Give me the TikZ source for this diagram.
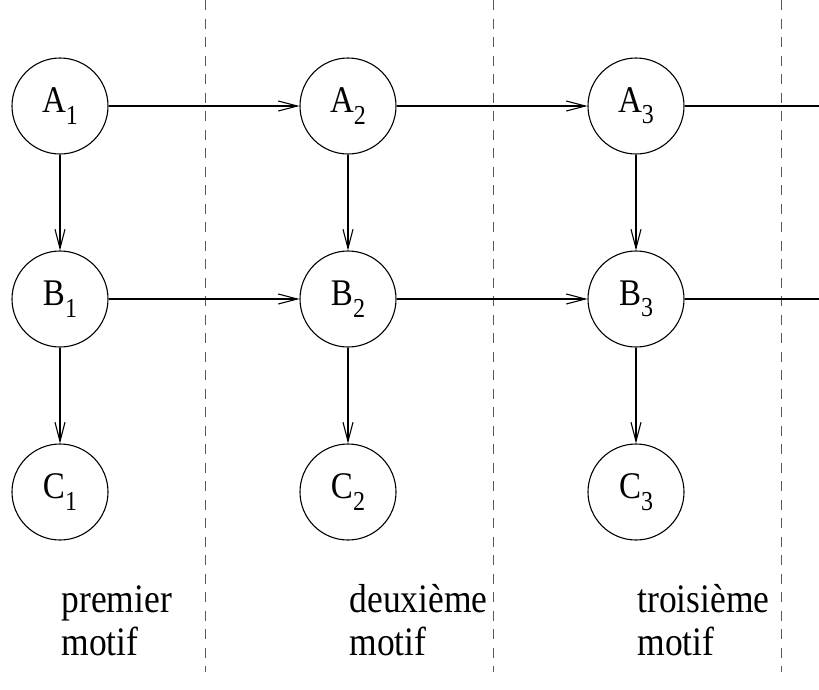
\documentclass[tikz,border=0pt]{standalone}
\usepackage{graphicx}
\usepackage{fontspec}
\setmainfont{Liberation Serif}
\usetikzlibrary{arrows.meta, positioning}

\newcommand{\haut}[1]{\scalebox{1}[1.14]{#1}}
\newcommand{\etiq}[2]{\haut{\fontsize{33}{33}\selectfont #1\raisebox{-10pt}{\fontsize{24}{24}\selectfont #2}}}

\begin{document}
\begin{tikzpicture}[x=1pt, y=-1pt, >={Straight Barb[length=19pt,width=10pt]}, line width=1.1pt, font=\fontsize{35.5}{42}\selectfont]
\tikzstyle{etat}=[circle, draw, minimum size=96pt, inner sep=0pt]
\tikzstyle{separ}=[dash pattern=on 10pt off 8.5pt, line width=1pt, black!65]
\tikzstyle{motif}=[anchor=base west, inner sep=0pt]

\useasboundingbox (0,0) rectangle (819,689);

% colonnes
\foreach \i/\x/\nom in {1/60/premier, 2/348/deuxième, 3/636/troisième} {
  \node[etat] (A\i) at (\x,106) {\etiq{A}{\i}};
  \node[etat] (B\i) at (\x,299) {\etiq{B}{\i}};
  \node[etat] (C\i) at (\x,492) {\etiq{C}{\i}};
  \node[motif] (n\i) at (\x+1,612) {\haut{\nom}};
  \node[motif] (m\i) at (\x+1,655) {\haut{motif}};
  \draw[separ] (\x+145,0) -- (\x+145,672);
  \path[->] (A\i) edge (B\i)
            (B\i) edge (C\i);
}

\coordinate (Afin) at (819,106);
\coordinate (Bfin) at (819,299);

\path[->]
(A1) edge (A2)
(A2) edge (A3)
(B1) edge (B2)
(B2) edge (B3);
\draw (A3) -- (Afin);
\draw (B3) -- (Bfin);

\end{tikzpicture}
\end{document}
